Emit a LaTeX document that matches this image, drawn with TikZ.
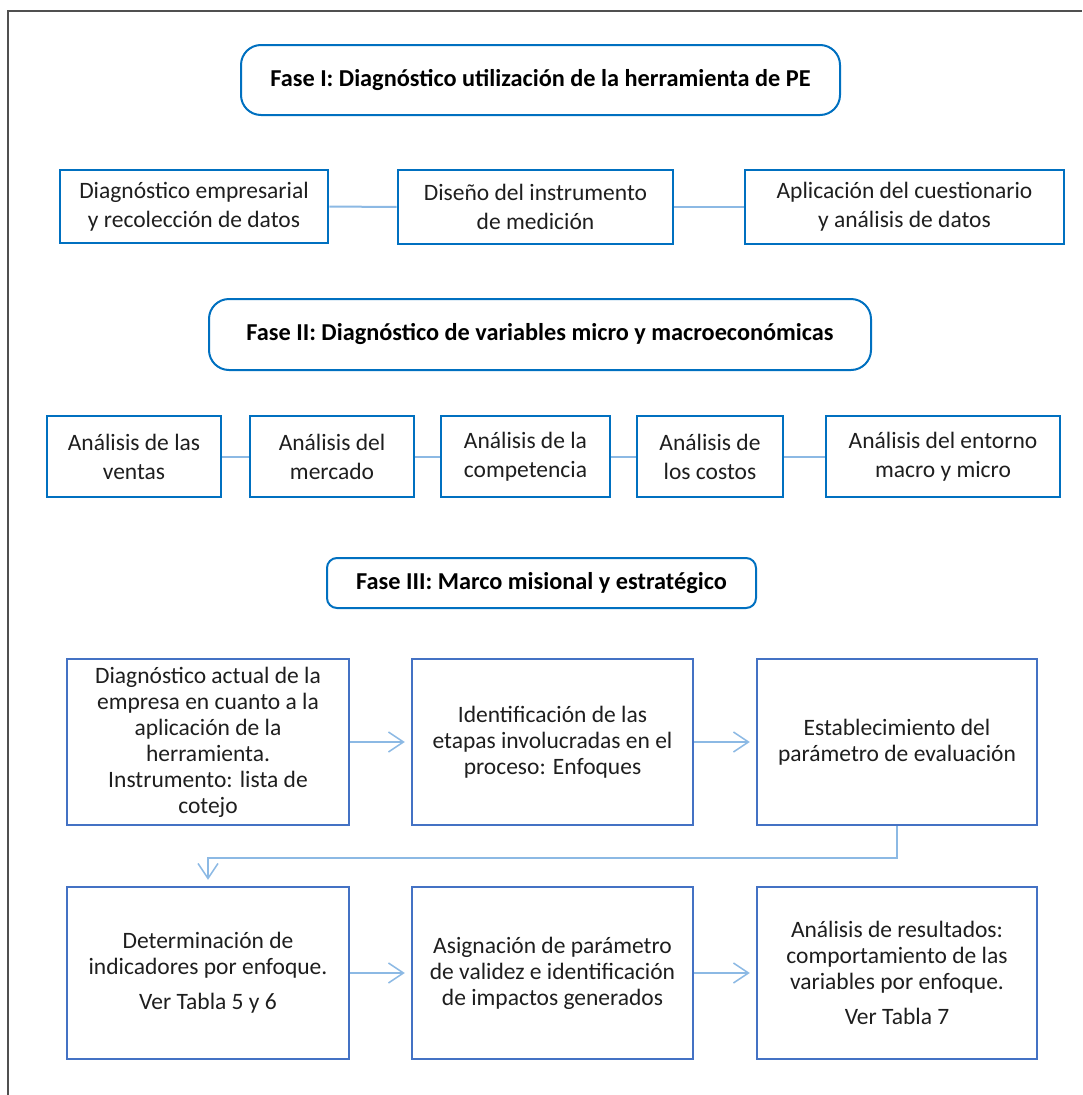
\documentclass[tikz,border=0pt]{standalone}
\usepackage{fontspec}
\setmainfont{Carlito}
\usetikzlibrary{arrows.meta}
\definecolor{fasecol}{RGB}{0,112,192}
\definecolor{boxcol}{RGB}{0,112,192}
\definecolor{stepcol}{RGB}{68,114,196}
\definecolor{linkcol}{RGB}{140,185,228}
\definecolor{txtcol}{RGB}{30,30,30}
\definecolor{framecol}{RGB}{80,80,80}
\newcommand{\titlefont}{\fontsize{24.3}{28}\selectfont\bfseries}
\newcommand{\boxfont}{\fontsize{23.5}{26}\selectfont}
\newcommand{\rowfont}{\fontsize{23.5}{29}\selectfont}
\begin{document}
\begin{tikzpicture}[x=1pt,y=-1pt,
  fase/.style={draw=fasecol,line width=2pt,rounded corners=20pt,font=\titlefont,text=black,inner sep=0pt},
  etapa/.style={draw=boxcol,line width=2.6pt,font=\rowfont,text=txtcol,align=center,inner sep=0pt},
  paso/.style={draw=stepcol,line width=2.4pt,font=\boxfont,text=txtcol,align=center,inner sep=0pt},
  link/.style={draw=linkcol,line width=2pt},
  flecha/.style={link,-{Straight Barb[length=15pt,width=20pt,line width=1.5pt]},shorten >=6pt}]
\useasboundingbox (0,0) rectangle (1082,1095);
\draw [framecol,line width=1.5pt] (8,1095) -- (8,11) -- (1082,11);

% Fase I
\path (540.5,80) node (faseI) [fase,minimum width=599pt,minimum height=70pt] {Fase I: Diagnóstico utilización de la herramienta de PE};
\path (194,206.5) node (diag) [etapa,minimum width=268pt,minimum height=73pt] {Diagnóstico empresarial\\y recolección de datos};
\path (535.5,207) node (disen) [etapa,minimum width=275pt,minimum height=74pt] {Diseño del instrumento\\de medición};
\path (904.5,207) node (aplic) [etapa,minimum width=319pt,minimum height=74pt] {Aplicación del cuestionario\\y análisis de datos};

\draw [link] (diag) to (disen);
\draw [link] (disen) to (aplic);

% Fase II
\path (540,334.5) node (faseII) [fase,minimum width=662pt,minimum height=71pt] {Fase II: Diagnóstico de variables micro y macroeconómicas};
\path (134,456.5) node (ventas) [etapa,minimum width=174pt,minimum height=81pt] {Análisis de las\\ventas};
\path (332,456.5) node (merc) [etapa,minimum width=164pt,minimum height=81pt] {Análisis del\\mercado};
\path (525.5,456.5) node (compet) [etapa,minimum width=169pt,minimum height=81pt] {Análisis de la\\competencia};
\path (710,456.5) node (costos) [etapa,minimum width=146pt,minimum height=81pt] {Análisis de\\los costos};
\path (943,456.5) node (entorno) [etapa,minimum width=234pt,minimum height=81pt] {Análisis del entorno\\macro y micro};

\draw [link] (ventas) to (merc);
\draw [link] (merc) to (compet);
\draw [link] (compet) to (costos);
\draw [link] (costos) to (entorno);

% Fase III
\path (541.5,583) node (faseIII) [fase,rounded corners=10pt,minimum width=429pt,minimum height=50pt] {Fase III: Marco misional y estratégico};
\path (208,742) node (actual) [paso,minimum width=282pt,minimum height=166pt] {Diagnóstico actual de la\\empresa en cuanto a la\\aplicación de la\\herramienta.\\Instrumento: lista de\\cotejo};
\path (552.5,742) node (etapas) [paso,minimum width=281pt,minimum height=166pt] {Identificación de las\\etapas involucradas en el\\proceso: Enfoques};
\path (897,742) node (param) [paso,minimum width=280pt,minimum height=166pt] {Establecimiento del\\parámetro de evaluación};
\path (208,973) node (indic) [paso,minimum width=282pt,minimum height=172pt] {Determinación de\\indicadores por enfoque.\\[9pt]Ver Tabla 5 y 6};
\path (552.5,973) node (asign) [paso,minimum width=281pt,minimum height=172pt] {Asignación de parámetro\\de validez e identificación\\de impactos generados};
\path (897,973) node (result) [paso,minimum width=280pt,minimum height=172pt] {Análisis de resultados:\\comportamiento de las\\variables por enfoque.\\[9pt]Ver Tabla 7};

\draw [flecha] (actual) to (etapas);
\draw [flecha] (etapas) to (param);
\draw [flecha] (param.south) -- ++(0,32) -| (indic.north);
\draw [flecha] (indic) to (asign);
\draw [flecha] (asign) to (result);
\end{tikzpicture}
\end{document}
